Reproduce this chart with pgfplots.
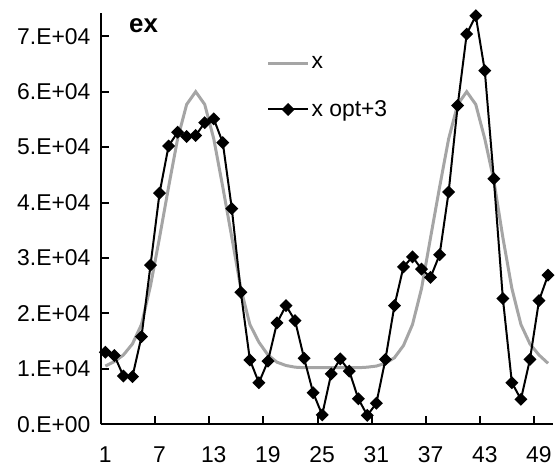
\documentclass[border=0pt]{standalone}
\usepackage{pgfplots}
\pgfplotsset{compat=1.18}
\usepackage{fontspec}
\setmainfont{Liberation Sans}
\definecolor{xgray}{RGB}{165,165,165}

\begin{document}
\begin{tikzpicture}
\begin{axis}[
    name=ax,
    scale only axis=true,
    width=452.5bp, height=412bp,
    xmin=0.5, xmax=50.5,
    ymin=0, ymax=74200,
    axis lines=left,
    axis line style={-, line width=2.2bp},
    tick align=inside,
    major tick length=8bp,
    tick style={line width=2bp, black},
    xtick={0.5,6.5,...,48.5},
    xticklabels={1,7,13,19,25,31,37,43,49},
    xticklabel style={xshift=4.5bp, yshift=-19bp},
    ytick={0,10000,...,70000},
    yticklabels={0.E+00,1.E+04,2.E+04,3.E+04,4.E+04,5.E+04,6.E+04,7.E+04},
    yticklabel style={xshift=-7bp},
    scaled y ticks=false,
    tick label style={font=\fontsize{23}{27}\selectfont},
    clip=false,
    legend style={draw=none, fill=none, at={(0.36,0.905)}, anchor=north west,
        font=\fontsize{23}{27}\selectfont, row sep=27bp},
    legend cell align=left,
    legend image code/.code={\draw[mark repeat=2,mark phase=2,#1] plot coordinates {(0bp,0bp)(20bp,0bp)(40bp,0bp)};},
]
\addplot[xgray, line width=3bp, no marks] coordinates {
(1,10500)(2,11300)(3,12500)(4,14500)(5,18000)(6,25000)(7,33700)(8,42800)(9,51500)(10,57700)
(11,60000)(12,57700)(13,51500)(14,42800)(15,33700)(16,24500)(17,18000)(18,14800)(19,12500)(20,11200)
(21,10600)(22,10300)(23,10200)(24,10200)(25,10200)(26,10200)(27,10200)(28,10200)(29,10200)(30,10300)
(31,10500)(32,11000)(33,12000)(34,14200)(35,18000)(36,24500)(37,33700)(38,42800)(39,51500)(40,57700)
(41,60000)(42,57700)(43,51500)(44,44000)(45,33700)(46,24500)(47,18000)(48,14500)(49,12500)(50,11000)
};
\addlegendentry{x}
\addplot[black, line width=2bp, mark=square*, mark size=3.6bp, mark options={rotate=45, solid}] coordinates {
(1,13000)(2,12400)(3,8700)(4,8600)(5,15800)(6,28700)(7,41700)(8,50200)(9,52700)(10,51900)
(11,52100)(12,54400)(13,55100)(14,50800)(15,38900)(16,23800)(17,11600)(18,7500)(19,11400)(20,18300)
(21,21400)(22,18700)(23,11900)(24,5700)(25,1700)(26,9100)(27,11800)(28,9600)(29,4600)(30,1600)
(31,3800)(32,11700)(33,21400)(34,28400)(35,30200)(36,28000)(37,26500)(38,30600)(39,41900)(40,57500)
(41,70400)(42,73700)(43,63800)(44,44300)(45,22700)(46,7500)(47,4500)(48,11700)(49,22300)(50,26900)
};
\addlegendentry{x opt+3}
\node[anchor=west, font=\fontsize{26}{30}\selectfont\bfseries] at (rel axis cs:0.055,0.97) {ex};
\end{axis}
\path ([shift={(-101bp,-43bp)}]ax.south west) rectangle ([shift={(1.5bp,13bp)}]ax.north east);
\end{tikzpicture}
\end{document}
